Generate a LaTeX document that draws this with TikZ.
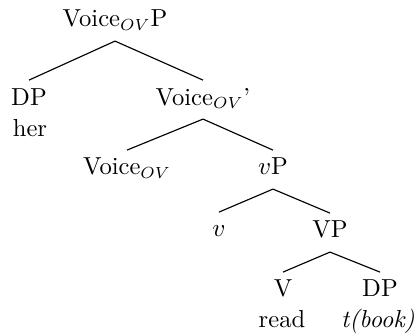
\documentclass[tikz,border=0pt]{standalone}
\begin{document}
\begin{tikzpicture}[x=0.435pt, y=-0.435pt,
  every node/.style={font=\fontsize{10.7pt}{13pt}\selectfont},
  cat/.style={anchor=base, inner sep=3.33pt, text height=7.3pt, text depth=2.6pt},
  word/.style={anchor=base, inner sep=1pt},
  branch/.style={line width=0.5pt}]
\useasboundingbox (0,0) rectangle (420,335);
% categories
\node[cat] (voicep) at (115,27) {Voice$_{OV}$P};
\node[cat] (dp1)    at (29,105) {DP};
\node[cat] (vbar)   at (203,105) {Voice$_{OV}$'};
\node[cat] (voice)  at (127,175) {Voice$_{OV}$};
\node[cat] (lvp)    at (273,175) {$v$P};
\node[cat] (lv)     at (219,237) {$v$};
\node[cat] (vp)     at (330,238) {VP};
\node[cat] (v)      at (283,297) {V};
\node[cat] (dp2)    at (380,297) {DP};
% terminal words
\node[word] (her)   at (30,137) {her};
\node[word] (read)  at (282,328) {read};
\node[word] (tbook) at (378,328) {\textit{t(book)}};
% branches
\draw[branch] (voicep.south) -- (dp1.north);
\draw[branch] (voicep.south) -- (vbar.north);
\draw[branch] (vbar.south) -- (voice.north);
\draw[branch] (vbar.south) -- (lvp.north);
\draw[branch] (lvp.south) -- (lv.north);
\draw[branch] (lvp.south) -- (vp.north);
\draw[branch] (vp.south) -- (v.north);
\draw[branch] (vp.south) -- (dp2.north);
\end{tikzpicture}
\end{document}
